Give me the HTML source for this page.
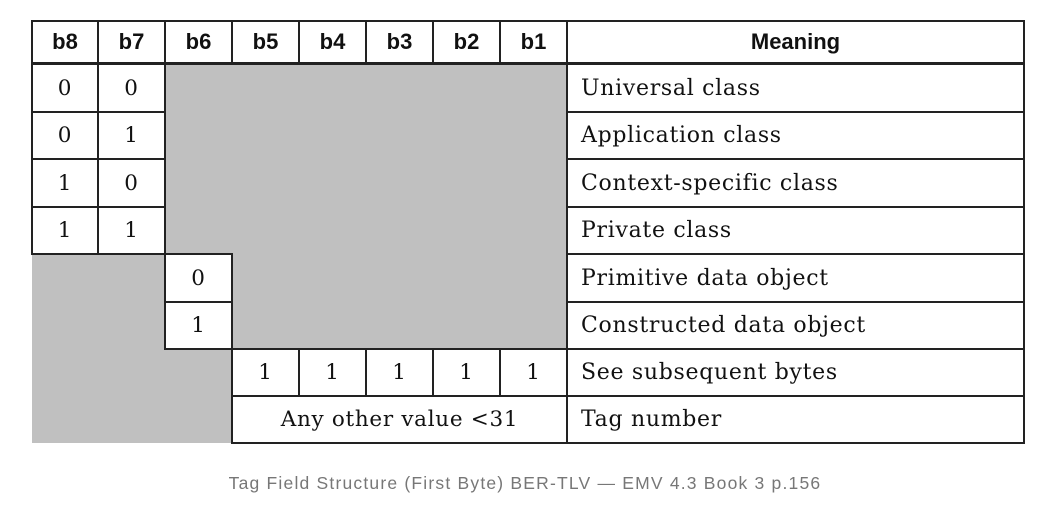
<!DOCTYPE html>
<html><head><meta charset="utf-8"><style>
body{margin:0;width:1050px;height:509px;background:#fff;position:relative;overflow:hidden;font-family:"DejaVu Serif",serif}
.g{position:absolute;background:#c0c0c0}
.c{position:absolute;box-sizing:border-box;border:2px solid #222;background:#fff;display:flex;align-items:center;justify-content:center;font-size:21.5px;letter-spacing:0.7px;color:#111}
.h{font-family:"Liberation Sans",sans-serif;font-weight:bold;font-size:22px;letter-spacing:0}
.m{justify-content:flex-start;padding-left:13px;font-size:22px;letter-spacing:0.7px}
#cap{position:absolute;left:0;width:1050px;top:473px;text-align:center;font-family:"Liberation Sans",sans-serif;font-size:17.5px;letter-spacing:1.2px;color:#777}
</style></head><body>
<div class="g" style="left:165px;top:64px;width:402px;height:190px"></div>
<div class="g" style="left:32px;top:254px;width:133px;height:189px"></div>
<div class="g" style="left:232px;top:254px;width:335px;height:95px"></div>
<div class="g" style="left:165px;top:349px;width:67px;height:94px"></div>
<div id="t"></div>
<div id="cap">Tag Field Structure (First Byte) BER-TLV — EMV 4.3 Book 3 p.156</div>
<script>
const xs=[32,98,165,232,299,366,433,500,567,1024];
const ys=[21,64,112,159,207,254,302,349,396,443];
const t=document.getElementById('t');
function cell(c0,c1,r0,r1,txt,cls,name){
 const d=document.createElement('div');
 d.className='c '+(cls||'');
 d.style.left=(xs[c0]-1)+'px';d.style.top=(ys[r0]-1)+'px';
 d.style.width=(xs[c1]-xs[c0]+2)+'px';d.style.height=(ys[r1]-ys[r0]+2)+'px';
 if(r0===0)d.style.borderBottomWidth='3px';
 d.textContent=txt;
 
 
 t.appendChild(d);
}
const heads=['b8','b7','b6','b5','b4','b3','b2','b1'];
heads.forEach((h,i)=>cell(i,i+1,0,1,h,'h','header-'+h));
cell(8,9,0,1,'Meaning','h','header-meaning');
const bits=[['0','0'],['0','1'],['1','0'],['1','1']];
bits.forEach((b,r)=>{cell(0,1,r+1,r+2,b[0],'','b8-row'+(r+1));cell(1,2,r+1,r+2,b[1],'','b7-row'+(r+1));});
cell(2,3,5,6,'0','','b6-primitive');
cell(2,3,6,7,'1','','b6-constructed');
for(let i=3;i<8;i++)cell(i,i+1,7,8,'1','','subsequent-bit-'+heads[i]);
cell(3,8,8,9,'Any other value <31','','tag-number-value');
const meanings=['Universal class','Application class','Context-specific class','Private class','Primitive data object','Constructed data object','See subsequent bytes','Tag number'];
meanings.forEach((m,r)=>cell(8,9,r+1,r+2,m,'m','meaning-row'+(r+1)));
</script>
</body></html>
